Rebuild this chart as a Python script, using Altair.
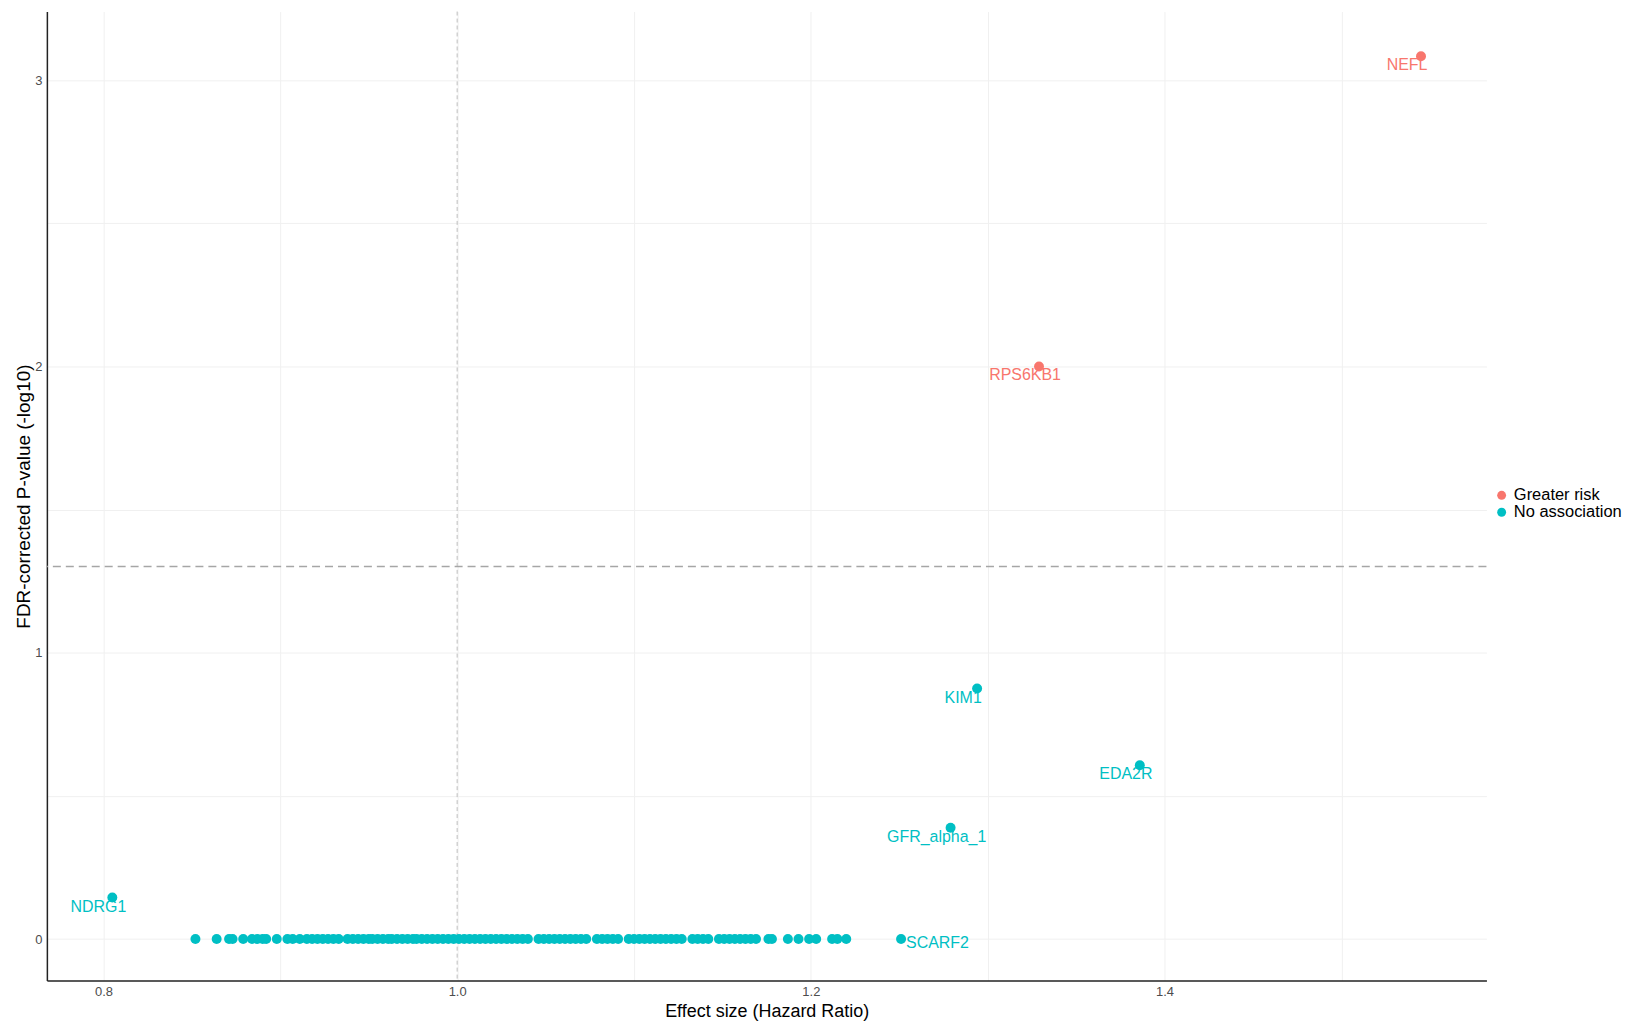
import altair as alt
import pandas as pd

# Labelled proteins
label_names = ["NEFL", "RPS6KB1", "KIM1", "EDA2R", "GFR_alpha_1", "NDRG1", "SCARF2"]
label_hr = [1.545, 1.329, 1.294, 1.386, 1.279, 0.805, 1.251]
label_p = [3.084, 2.0, 0.875, 0.607, 0.389, 0.145, 0.0]
label_group = ["Greater risk", "Greater risk", "No association", "No association",
               "No association", "No association", "No association"]

# Unlabelled proteins sitting at -log10(FDR p) = 0
zero_hr = [0.852, 0.864, 0.871, 0.873, 0.879, 0.884, 0.887, 0.890, 0.892,
           0.898, 0.904, 0.907, 0.911, 0.915, 0.918, 0.921, 0.924, 0.927, 0.930, 0.933,
           0.938, 0.941, 0.944, 0.947, 0.950, 0.952, 0.955, 0.958, 0.961, 0.963,
           0.966, 0.969, 0.972, 0.975, 0.977, 0.980, 0.983, 0.986, 0.989, 0.992,
           0.995, 0.998, 1.001, 1.004, 1.007, 1.010, 1.013, 1.016, 1.019, 1.022,
           1.025, 1.028, 1.031, 1.034, 1.037, 1.040,
           1.046, 1.049, 1.052, 1.055, 1.058, 1.061, 1.064, 1.067, 1.070, 1.073,
           1.079, 1.082, 1.085, 1.088, 1.091,
           1.097, 1.100, 1.103, 1.106, 1.109, 1.112, 1.115, 1.118, 1.121, 1.124, 1.127,
           1.133, 1.136, 1.139, 1.142,
           1.148, 1.151, 1.154, 1.157, 1.160, 1.163, 1.166, 1.169,
           1.176, 1.178, 1.187, 1.193, 1.199, 1.203, 1.212, 1.215, 1.220]

groups = ["Greater risk", "No association"]
colors = ["#F8766D", "#00BFC4"]

x_ticks = [0.8, 0.9, 1.0, 1.1, 1.2, 1.3, 1.4, 1.5]
y_ticks = [0, 0.5, 1, 1.5, 2, 2.5, 3]
sig_line = [1.30103]
ref_hr = [1.0]

FONT = "Liberation Sans"

lab_df = pd.DataFrame({"hr": label_hr, "p": label_p, "group": label_group, "name": label_names})
zero_df = pd.DataFrame({"hr": zero_hr, "p": [0.0] * len(zero_hr), "group": ["No association"] * len(zero_hr), "name": [""] * len(zero_hr)})
pts = pd.concat([zero_df, lab_df], ignore_index=True)

xscale = alt.Scale(domain=[0.768, 1.582], nice=False, zero=False)
yscale = alt.Scale(domain=[-0.145, 3.24], nice=False, zero=False)
cscale = alt.Scale(domain=groups, range=colors)

xaxis = alt.Axis(values=x_ticks, title="Effect size (Hazard Ratio)",
                 labelExpr="round(datum.value*10) % 2 == 0 ? format(datum.value, '.1f') : ''",
                 grid=True, gridColor="#F0F0F0", gridWidth=1, ticks=False,
                 domainColor="#222222", domainWidth=1.5,
                 labelColor="#4D4D4D", labelFontSize=13, labelFont=FONT, labelPadding=5,
                 titleFont=FONT, titleFontSize=18, titleFontWeight="normal", titleColor="#000000",
                 titlePadding=4)
yaxis = alt.Axis(values=y_ticks, title="FDR-corrected P-value (-log10)",
                 labelExpr="datum.value % 1 == 0 ? format(datum.value, 'd') : ''",
                 grid=True, gridColor="#F0F0F0", gridWidth=1, ticks=False,
                 domainColor="#222222", domainWidth=1.5,
                 labelColor="#4D4D4D", labelFontSize=13, labelFont=FONT, labelPadding=5,
                 titleFont=FONT, titleFontSize=19, titleFontWeight="normal", titleColor="#000000",
                 titlePadding=1)

base = alt.Chart(pts)

points = base.mark_circle(size=100, opacity=1).encode(
    x=alt.X("hr:Q", scale=xscale, axis=xaxis),
    y=alt.Y("p:Q", scale=yscale, axis=yaxis),
    color=alt.Color("group:N", scale=cscale,
                    legend=alt.Legend(title=None, orient="none", legendX=1451, legendY=477,
                                      symbolType="circle", symbolSize=80, symbolStrokeWidth=0,
                                      labelFontSize=16.5, labelFont=FONT, labelColor="#000000",
                                      labelOffset=4, rowPadding=0)),
)

hline = alt.Chart(pd.DataFrame({"y": sig_line})).mark_rule(
    color="#A6A6A6", strokeDash=[8, 5], strokeWidth=1.5
).encode(y=alt.Y("y:Q", scale=yscale))

vline = alt.Chart(pd.DataFrame({"x": ref_hr})).mark_rule(
    color="#BDBDBD", strokeDash=[4, 3], strokeWidth=1
).encode(x=alt.X("x:Q", scale=xscale))

lab_main = alt.Chart(lab_df).transform_filter("datum.name != 'SCARF2'").mark_text(
    font=FONT, fontSize=16, dx=-14, dy=9, align="center", baseline="middle"
).encode(
    x=alt.X("hr:Q", scale=xscale), y=alt.Y("p:Q", scale=yscale),
    text="name:N", color=alt.Color("group:N", scale=cscale, legend=None),
)
lab_right = alt.Chart(lab_df).transform_filter("datum.name == 'SCARF2'").mark_text(
    font=FONT, fontSize=16, dx=5, dy=4, align="left", baseline="middle"
).encode(
    x=alt.X("hr:Q", scale=xscale), y=alt.Y("p:Q", scale=yscale),
    text="name:N", color=alt.Color("group:N", scale=cscale, legend=None),
)

chart = alt.layer(vline, hline, points, lab_main, lab_right).properties(
    width=1444, height=972,
    background="white",
    autosize=alt.AutoSizeParams(type="none"),
    padding={"left": 39, "top": 2, "right": 141, "bottom": 44},
).configure_view(strokeWidth=0)

chart.save("out.html", embed_options={"renderer": "svg", "actions": False})
